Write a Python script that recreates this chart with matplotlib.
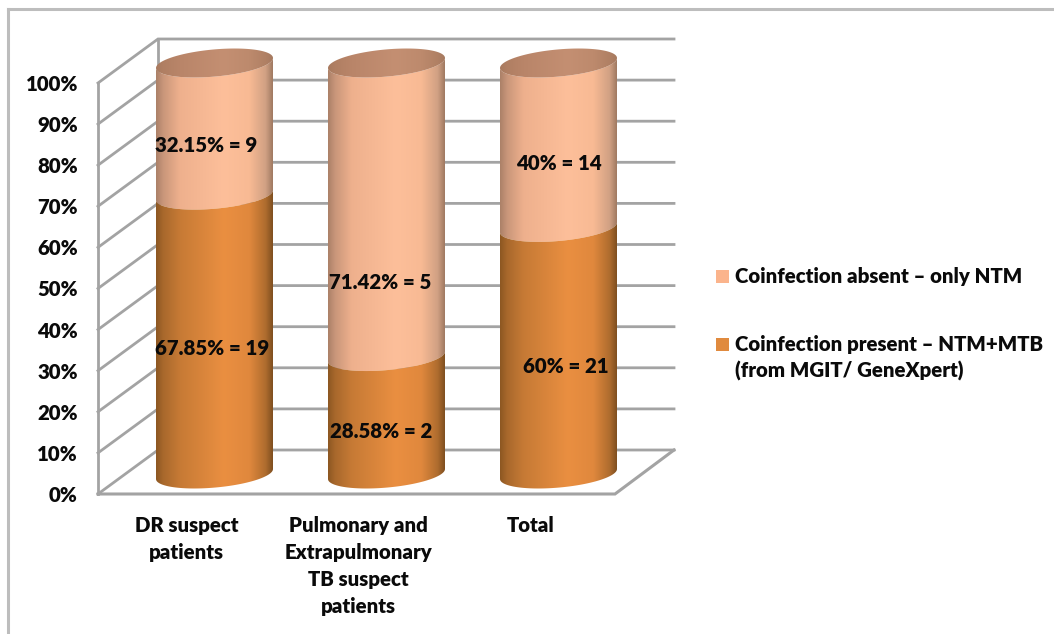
import numpy as np
import matplotlib
matplotlib.use("Agg")
import matplotlib.pyplot as plt
from matplotlib.colors import LinearSegmentedColormap
from matplotlib.patches import Polygon, Rectangle

categories = ["DR suspect\npatients",
              "Pulmonary and\nExtrapulmonary\nTB suspect\npatients",
              "Total"]
present_pct = [67.85, 28.58, 60]
absent_pct = [32.15, 71.42, 40]
present_labels = ["67.85% = 19", "28.58% = 2", "60% = 21"]
absent_labels = ["32.15% = 9", "71.42% = 5", "40% = 14"]
ticks = [0, 10, 20, 30, 40, 50, 60, 70, 80, 90, 100]
legend_absent = "Coinfection absent \u2013 only NTM"
legend_present = "Coinfection present \u2013 NTM+MTB\n(from MGIT/ GeneXpert)"

W, H = 1054, 634
SX, SY = 172.0, 4.11      # pixels per category / per percent
X0, Y0 = 214.5, 474.0     # pixel of category 0 / of value 0

plt.rcParams["font.family"] = ["Lato", "DejaVu Sans"]
plt.rcParams["font.weight"] = "heavy"
FS = 14.7
TXT = "#0a0a0a"
GRID = "#a3a3a3"

fig = plt.figure(figsize=(W / 100, H / 100), dpi=100, facecolor="white")
ax = fig.add_axes([0, 0, 1, 1])
ax.set_xlim(-X0 / SX, (W - X0) / SX)
ax.set_ylim((Y0 - H) / SY, Y0 / SY)
ax.axis("off")

dx = lambda px: px / SX     # horizontal pixel offset in data units
dy = lambda px: -px / SY    # downward pixel offset in data units

# outer frame
ax.plot([dx(8) - X0 / SX] * 2, [dy(H - Y0), dy(9 - Y0)], color="#bdbdbd", lw=2.2, zorder=1)
ax.plot([dx(8) - X0 / SX, dx(W) - X0 / SX], [dy(9 - Y0)] * 2, color="#bdbdbd", lw=2.2, zorder=1)

# walls and floor
LEFT, BACK, RIGHT, FRONT_R = dx(98 - X0), dx(158 - X0), dx(674 - X0), dx(615 - X0)
FRONT_OFF, BACK_OFF = dy(494 - Y0), dy(450 - Y0)
for t in ticks:
    ax.plot([LEFT, BACK, RIGHT], [t + FRONT_OFF, t + BACK_OFF, t + BACK_OFF],
            color=GRID, lw=2, solid_joinstyle="miter", zorder=2)
    ax.text(dx(78 - X0), t + FRONT_OFF, f"{t}%", ha="right", va="center_baseline",
            fontsize=FS, color=TXT, zorder=6)
ax.plot([LEFT, LEFT], [ticks[0] + FRONT_OFF, ticks[-1] + FRONT_OFF], color=GRID, lw=2, zorder=2)
ax.plot([BACK, BACK], [ticks[0] + BACK_OFF, ticks[-1] + BACK_OFF], color=GRID, lw=2, zorder=2)
ax.plot([LEFT, FRONT_R, RIGHT], [ticks[0] + FRONT_OFF, ticks[0] + FRONT_OFF, ticks[0] + BACK_OFF],
        color=GRID, lw=2.2, solid_joinstyle="miter", zorder=2)

# cylinders
A, TILT, B = 58.5, 5.0, 13.6
stops = [0, .06, .2, .58, .8, .94, 1]
def cmap(cols):
    return LinearSegmentedColormap.from_list("c", list(zip(stops, cols)))
orange = cmap(["#8c5722", "#a8682c", "#c67a35", "#ea8f41", "#e0883d", "#ae6c2e", "#7f4f20"])
peach = cmap(["#ab8168", "#c9967a", "#eeb08d", "#fdbf9a", "#f8ba94", "#d0a083", "#a07a62"])
cap = cmap(["#a87a5f", "#b07f63", "#b98569", "#c48f72", "#bd8a6d", "#b08064", "#a67a60"])
grad = np.linspace(0, 1, 256)[None, :]

def arc(c, v, t):
    return c + dx(A) * np.cos(t), v + (TILT * np.cos(t) + B * np.sin(t)) / SY

front = np.linspace(np.pi, 2 * np.pi, 80)   # lower, visible half of the ellipse
full = np.linspace(0, 2 * np.pi, 160)

def shade(poly_xy, c, lo, hi, cm, z):
    poly = Polygon(poly_xy, closed=True, transform=ax.transData, fc="none", ec="none")
    ax.add_patch(poly)
    im = ax.imshow(grad, cmap=cm, extent=[c - dx(A), c + dx(A), lo, hi],
                   aspect="auto", zorder=z, interpolation="bilinear")
    im.set_clip_path(poly)

def body(c, v0, v1, cm, z):
    x0, y0 = arc(c, v0, front)
    x1, y1 = arc(c, v1, front[::-1])
    shade(np.column_stack([np.r_[x0, x1], np.r_[y0, y1]]), c, v0 - 5, v1 + 5, cm, z)

for i, (p, a) in enumerate(zip(present_pct, absent_pct)):
    body(i, 0, p, orange, 3.2)
    body(i, p, p + a, peach, 3.1)
    x, y = arc(i, p + a, full)
    shade(np.column_stack([x, y]), i, p + a - 5, p + a + 5, cap, 3.3)

ax.set_xlim(-X0 / SX, (W - X0) / SX)
ax.set_ylim((Y0 - H) / SY, Y0 / SY)

# data labels (pixel offset from each cylinder's centre / segment middle)
present_shift = [(-2, 347), (-5, 430), (7, 365)]
absent_shift = [(-8, 144), (-6, 281), (0, 162)]
for i in range(3):
    for lab, (ox, py) in ((present_labels[i], present_shift[i]), (absent_labels[i], absent_shift[i])):
        ax.text(i + dx(ox), dy(py - Y0), lab, ha="center", va="center_baseline",
                fontsize=FS, color=TXT, zorder=6)

# category labels
for i, c in enumerate(categories):
    ax.text(i + dx(-28), dy(516 - Y0), c, ha="center", va="top", fontsize=FS,
            color=TXT, linespacing=1.49, zorder=6)

# legend
for py, col, lab in ((270, "#fbb48c", legend_absent), (338, "#e08a3e", legend_present)):
    ax.add_patch(Rectangle((dx(716 - X0), dy(py + 13 - Y0)), dx(13), dy(-13), fc=col, ec="none", zorder=6))
    ax.text(dx(735 - X0), dy(py - 3 - Y0), lab, ha="left", va="top", fontsize=FS,
            color=TXT, linespacing=1.4, zorder=6)

fig.savefig("out.png", dpi=100, facecolor="white")
